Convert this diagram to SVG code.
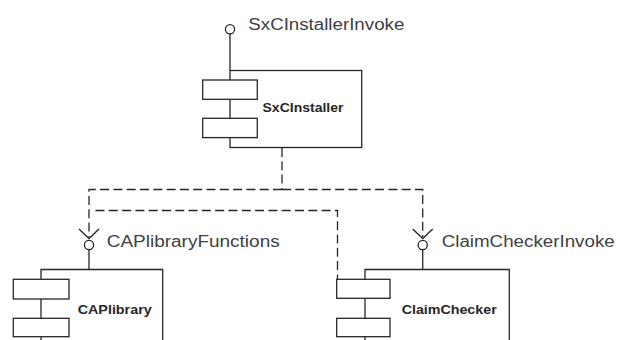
<svg xmlns="http://www.w3.org/2000/svg" width="618" height="340" viewBox="0 0 618 340">
<style>
.ln{fill:none;stroke:#262626;stroke-width:1.3}
.box{fill:#fff;stroke:#262626;stroke-width:1.3}
.dash{fill:none;stroke:#262626;stroke-width:1.3;stroke-dasharray:9 4.3}
.lbl{font-family:"Liberation Sans",Arial,sans-serif;font-size:16px;fill:#404040}
.name{font-family:"Liberation Sans",Arial,sans-serif;font-size:13px;font-weight:bold;fill:#262626}
</style>
<rect width="618" height="340" fill="#fff"/>
<g id="connectors">
<polyline class="dash" points="282,148 282,189.5"/>
<polyline class="dash" points="282,189.5 89,189.5 89,237"/>
<polyline class="dash" points="282,189.5 422.7,189.5 422.7,237"/>
<polyline class="dash" points="95.5,210.5 337.5,210.5 337.5,279"/>
<polyline class="ln" points="79,229 89,238.5 99,229"/>
<polyline class="ln" points="412.7,229 422.7,238.5 432.7,229"/>
</g>
<g id="SxCInstaller">
<line class="ln" x1="230" y1="34" x2="230" y2="70.5"/>
<circle class="box" cx="230" cy="29.3" r="4.6"/>
<text class="lbl" x="248.3" y="30" textLength="156" lengthAdjust="spacingAndGlyphs">SxCInstallerInvoke</text>
<rect class="box" x="230" y="70.5" width="131.7" height="77"/>
<rect class="box" x="202.7" y="80" width="54.6" height="19.3"/>
<rect class="box" x="202.7" y="118.3" width="54.6" height="19.3"/>
<text class="name" x="262.5" y="112.3" textLength="81" lengthAdjust="spacingAndGlyphs">SxCInstaller</text>
</g>
<g id="CAPlibrary">
<line class="ln" x1="89" y1="250" x2="89" y2="269.5"/>
<circle class="box" cx="89" cy="245" r="4.6"/>
<text class="lbl" x="106.7" y="247" textLength="173" lengthAdjust="spacingAndGlyphs">CAPlibraryFunctions</text>
<polyline class="ln" points="41,345 41,269.5 162.7,269.5 162.7,345"/>
<rect class="box" x="13.3" y="279.3" width="55.7" height="19.7"/>
<rect class="box" x="13.3" y="318.3" width="55.7" height="18.4"/>
<text class="name" x="77.7" y="313.5" textLength="74" lengthAdjust="spacingAndGlyphs">CAPlibrary</text>
</g>
<g id="ClaimChecker">
<line class="ln" x1="422.7" y1="250" x2="422.7" y2="269.5"/>
<circle class="box" cx="422.7" cy="245" r="4.6"/>
<text class="lbl" x="441.7" y="247" textLength="173" lengthAdjust="spacingAndGlyphs">ClaimCheckerInvoke</text>
<polyline class="ln" points="365,345 365,269.5 509.3,269.5 509.3,345"/>
<rect class="box" x="336.7" y="279.3" width="53.3" height="19"/>
<rect class="box" x="336.7" y="318.3" width="53.3" height="18.4"/>
<text class="name" x="401.7" y="313.5" textLength="95" lengthAdjust="spacingAndGlyphs">ClaimChecker</text>
</g>
</svg>
